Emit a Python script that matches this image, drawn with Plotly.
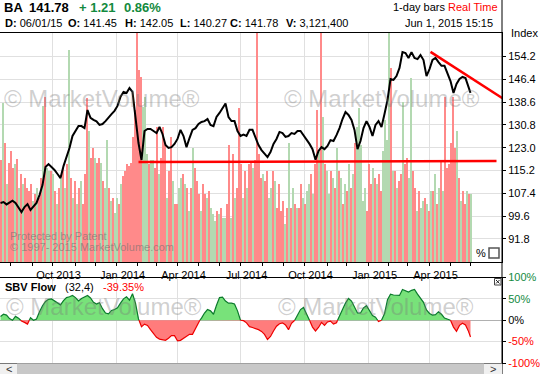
import pandas as pd
import plotly.graph_objects as go

FONT = "Liberation Sans, Arial, Helvetica, sans-serif"

# ---------------- calendar ----------------
CAL_START = "2013-07-18"
CAL_END = "2015-07-31"
LAST_BAR = "2015-06-01"
HOLIDAYS = ["2013-09-02", "2013-11-28", "2013-12-25", "2014-01-01", "2014-01-20",
            "2014-02-17", "2014-04-18", "2014-05-26", "2014-07-04", "2014-09-01",
            "2014-11-27", "2014-12-25", "2015-01-01", "2015-01-19", "2015-02-16",
            "2015-04-03", "2015-05-25", "2015-07-03"]

# ---------------- data ----------------
# close price, sampled every 3rd trading day (+ last bar)
PRICE = [
    104.1, 104.4, 103.6, 104.4, 104.9, 104.1, 102.7, 101.0, 102.7, 103.7,
    101.7, 103.0, 104.1, 106.8, 110.2, 116.4, 117.4, 116.4, 115.4, 114.0,
    112.6, 116.7, 119.5, 122.9, 127.0, 128.7, 130.4, 130.4, 129.7, 135.9,
    133.2, 132.5, 132.0, 130.8, 131.1, 132.1, 133.5, 134.5, 135.6, 137.3,
    140.4, 142.1, 141.7, 143.4, 142.1, 133.2, 124.6, 118.8, 128.7, 129.4,
    129.4, 128.7, 128.0, 130.1, 127.7, 123.9, 122.9, 123.2, 124.3, 126.0,
    129.1, 127.0, 123.2, 126.3, 129.1, 129.7, 131.1, 131.8, 132.1, 132.8,
    130.8, 130.4, 133.5, 134.9, 136.6, 138.1, 133.5, 132.1, 132.1, 128.7,
    127.0, 127.5, 127.0, 129.1, 129.1, 126.7, 123.9, 122.2, 120.8, 119.8,
    121.5, 124.3, 126.0, 128.4, 128.0, 126.7, 127.0, 128.0, 127.7, 128.7,
    128.7, 127.3, 126.0, 124.3, 122.5, 118.9, 121.9, 123.2, 122.5, 123.6,
    125.6, 125.3, 127.3, 129.7, 132.8, 135.2, 134.2, 132.5, 129.1, 122.5,
    125.3, 129.7, 132.1, 130.1, 127.0, 130.8, 132.1, 130.1, 134.5, 139.3,
    146.5, 146.2, 147.5, 150.3, 155.7, 155.4, 153.7, 155.7, 153.7, 153.3,
    154.7, 153.0, 147.5, 149.9, 153.0, 153.7, 152.3, 151.0, 151.0, 148.6,
    145.8, 141.7, 144.8, 146.5, 147.2, 146.8, 143.4, 141.78,
]

# volume (millions), every 2nd trading day; direction G = up day, R = down day
VOLUME_M = [
    5.32, 8.32, 6.21, 4.11, 5.21, 5.84, 4.95, 5.16, 5.42, 3.89,
    4.63, 4.11, 4.42, 3.89, 3.74, 4.11, 3.21, 3.58, 3.89, 3.37,
    4.42, 8.16, 8.63, 4.95, 4.79, 4.79, 4.63, 3.74, 3.05, 3.89,
    4.42, 4.95, 3.89, 5.16, 11.1, 4.42, 3.37, 4.26, 3.05, 3.89,
    4.26, 3.05, 4.63, 8.58, 6.89, 5.47, 6.0, 5.47, 5.21, 5.47,
    5.21, 4.26, 3.89, 6.37, 3.89, 3.21, 3.37, 2.58, 3.37, 3.05,
    4.11, 4.53, 4.79, 5.16, 5.05, 5.21, 6.53, 7.95, 13.0, 10.05,
    9.68, 8.11, 8.63, 5.68, 5.16, 5.32, 5.32, 4.95, 7.05, 4.63,
    5.47, 7.05, 6.21, 3.37, 4.79, 6.53, 4.26, 3.05, 3.05, 3.89,
    4.42, 4.63, 4.11, 3.89, 2.68, 3.89, 6.0, 4.95, 4.26, 3.58,
    2.68, 4.11, 3.58, 3.37, 3.74, 2.84, 2.53, 2.16, 2.68, 2.53,
    2.84, 2.32, 2.32, 3.05, 6.11, 2.32, 5.68, 3.37, 3.89, 8.05,
    5.16, 3.37, 4.79, 3.89, 5.16, 5.21, 4.95, 5.32, 13.0, 5.68,
    4.42, 4.63, 4.26, 4.79, 3.37, 3.89, 4.79, 4.26, 2.84, 4.11,
    2.68, 3.21, 2.0, 2.84, 6.21, 2.84, 3.89, 3.05, 2.84, 2.84,
    4.11, 3.37, 3.05, 3.74, 4.11, 4.63, 3.58, 5.16, 7.95, 5.84,
    13.0, 7.58, 5.16, 4.79, 3.58, 4.79, 4.42, 3.89, 6.0, 4.79,
    4.42, 3.05, 4.11, 3.74, 5.16, 3.89, 4.63, 6.21, 7.05, 8.05,
    6.11, 3.21, 3.89, 2.68, 5.16, 4.11, 4.95, 4.42, 4.11, 4.63,
    3.74, 5.84, 7.42, 6.37, 13.0, 10.16, 4.79, 4.79, 3.89, 4.26,
    4.63, 8.37, 5.16, 5.47, 4.42, 9.63, 4.79, 3.89, 2.68, 3.74,
    2.84, 3.21, 3.37, 3.05, 2.68, 3.74, 3.74, 4.63, 3.05, 3.89,
    5.32, 3.74, 8.63, 4.95, 5.16, 6.21, 8.63, 6.0, 6.89, 4.42,
    3.21, 3.74, 3.05, 3.74, 3.58, 3.58,
]
VOLUME_DIR = (
    "RGRGRRRGRG" "RGRRRRGRGR" "RGRGGRGRGR" "GRGRGRGRGR" "GRRRGRRGRR" "GRGGRGRGGR"
    "GRRRRRRRRR" "RGGGRGGRRG" "RRRGRRGRRG" "GRGRGRGRRR" "GRRGRGGGRG" "RGGRRGRGRR"
    "RGRGRRGRRR" "RGRRGGRGRR" "RRGRGRGRGR" "RGRGGRGRRG" "RGRGGRGRGR" "GRGRGRGRGG"
    "GGGRRRGRGR" "RGGGGRGRGR" "RGRRGGRRGR" "GGRGRGRGRG" "RGRRRRRRGR" "GRRGRG"
)

# SBV Flow (32,4), percent, same sampling as PRICE
SBV_PCT = [
    9, 14, 12, 4, 0, 9, 5, -2, -5, -9,
    6, 0, 3, 20, 34, 44, 49, 50, 45, 40,
    36, 46, 53, 55, 58, 53, 45, 51, 55, 58,
    52, 42, 38, 41, 27, 17, 15, 23, 25, 29,
    40, 50, 55, 47, 62, 40, 3, -15, -9, -12,
    -22, -31, -40, -44, -46, -47, -42, -36, -36, -48,
    -47, -42, -36, -33, -33, -18, -4, 5, 17, 25,
    22, 14, 35, 53, 54, 45, 40, 40, 38, 22,
    0, -1, -6, -15, -17, -19, -22, -26, -33, -45,
    -38, -25, -14, -8, -6, -11, -22, -7, -1, 11,
    25, 30, 15, 0, -16, -25, -17, -5, -12, -4,
    -2, -9, -6, 11, 25, 40, 51, 45, 32, 17,
    17, 29, 34, 21, 11, 7, -3, 0, 15, 48,
    61, 59, 58, 58, 72, 69, 66, 70, 72, 61,
    51, 42, 24, 16, 12, 13, 20, 14, 5, 3,
    0, -16, -26, -12, -7, -11, -26, -39.35,
]

QUARTER_TICKS = ["2013-10-01", "2014-01-01", "2014-04-01", "2014-07-01",
                 "2014-10-01", "2015-01-01", "2015-04-01"]
QUARTER_LABELS = ["Oct 2013", "Jan 2014", "Apr 2014", "Jul 2014",
                  "Oct 2014", "Jan 2015", "Apr 2015"]
MONTH_TICKS = ["2013-08-01", "2013-09-01", "2013-10-01", "2013-11-01", "2013-12-01",
               "2014-01-01", "2014-02-01", "2014-03-01", "2014-04-01", "2014-05-01",
               "2014-06-01", "2014-07-01", "2014-08-01", "2014-09-01", "2014-10-01",
               "2014-11-01", "2014-12-01", "2015-01-01", "2015-02-01", "2015-03-01",
               "2015-04-01", "2015-05-01", "2015-06-01"]
PRICE_TICKS = [91.8, 99.6, 107.4, 115.2, 123.0, 130.8, 138.6, 146.4, 154.2]
PRICE_RANGE = [83.9, 162.24]
VOLUME_RANGE = [0, 12]
SBV_TICKS = [-100, -50, 0, 50, 100]
SBV_LABELS = ["-100%", "-50%", "0%", "50%", "100%"]
SBV_LABEL_COLORS = ["#ff0000", "#ff0000", "#000000", "#138a3e", "#138a3e"]

SUPPORT_DATES = ["2014-02-04", "2015-07-08"]
SUPPORT_PRICES = [118.1, 118.45]
RESIST_DATES = ["2015-04-02", "2015-07-16"]
RESIST_PRICES = [155.8, 139.9]

# ---------------- helpers ----------------
cal = pd.bdate_range(CAL_START, CAL_END, freq="C", holidays=HOLIDAYS)


def tidx(d):
    return int(cal.searchsorted(pd.Timestamp(d)))


n = tidx(LAST_BAR) + 1
price_x = list(range(0, n, 3))
if price_x[-1] != n - 1:
    price_x.append(n - 1)
price_x = price_x[:len(PRICE)]
vol_x = list(range(0, n, 2))[:len(VOLUME_M)]
vol_colors = ["#b3d9b1" if c == "G" else "#ff8a8a" for c in VOLUME_DIR[:len(vol_x)]]

X_RANGE = [-0.5, 501.5]

# split SBV into positive / negative parts at zero crossings
pts = []
sbv_x = price_x[:len(SBV_PCT)]
for i, (xv, v) in enumerate(zip(sbv_x, SBV_PCT)):
    if i > 0:
        x0, v0 = sbv_x[i - 1], SBV_PCT[i - 1]
        if v0 * v < 0:
            pts.append((x0 + (xv - x0) * v0 / (v0 - v), 0.0))
    pts.append((xv, v))
sx = [p[0] for p in pts]
pos_fill = [max(p[1], 0) for p in pts]
neg_fill = [min(p[1], 0) for p in pts]
pos_line = [p[1] if p[1] >= 0 else None for p in pts]
neg_line = [p[1] if p[1] <= 0 else None for p in pts]

fig = go.Figure()
fig.add_trace(go.Bar(x=vol_x, y=VOLUME_M, width=2, marker=dict(color=vol_colors, line=dict(width=0)),
                     xaxis="x", yaxis="y"))
fig.add_trace(go.Scatter(x=price_x, y=PRICE, mode="lines", line=dict(color="black", width=2),
                         xaxis="x", yaxis="y2"))
fig.add_trace(go.Scatter(x=[tidx(d) for d in SUPPORT_DATES], y=SUPPORT_PRICES, mode="lines",
                         line=dict(color="#ff0000", width=2.5), xaxis="x", yaxis="y2"))
fig.add_trace(go.Scatter(x=[tidx(d) for d in RESIST_DATES], y=RESIST_PRICES, mode="lines",
                         line=dict(color="#ff0000", width=2.5), xaxis="x", yaxis="y2"))

fig.add_trace(go.Scatter(x=sx, y=pos_fill, mode="lines", fill="tozeroy", fillcolor="#78e27a",
                         line=dict(width=0), xaxis="x2", yaxis="y3"))
fig.add_trace(go.Scatter(x=sx, y=neg_fill, mode="lines", fill="tozeroy", fillcolor="#ff7c7c",
                         line=dict(width=0), xaxis="x2", yaxis="y3"))
fig.add_trace(go.Scatter(x=sx, y=pos_line, mode="lines", line=dict(color="#0b7a2c", width=1.2),
                         connectgaps=False, xaxis="x2", yaxis="y3"))
fig.add_trace(go.Scatter(x=sx, y=neg_line, mode="lines", line=dict(color="#ee0000", width=1.2),
                         connectgaps=False, xaxis="x2", yaxis="y3"))

GRID = "#e0e0e0"
q_idx = [tidx(d) for d in QUARTER_TICKS]
m_idx = [tidx(d) for d in MONTH_TICKS]

MAIN_BOTTOM = (363 - 262) / 330
SBV_TOP = (363 - 277.5) / 330

fig.update_layout(
    width=542, height=374,
    margin=dict(l=0, r=40, t=33, b=11),
    paper_bgcolor="white", plot_bgcolor="white",
    showlegend=False, bargap=0,
    font=dict(family=FONT, size=11, color="black"),
    xaxis=dict(domain=[0, 1], anchor="y", range=X_RANGE,
               tickmode="array", tickvals=q_idx, ticktext=QUARTER_LABELS,
               ticks="outside", ticklen=3, tickcolor="black",
               showline=True, linecolor="black", linewidth=1, mirror=True,
               showgrid=True, gridcolor=GRID, zeroline=False,
               ticklabelshift=6,
               minor=dict(tickmode="array", tickvals=m_idx, ticks="outside", ticklen=3,
                          tickcolor="black", showgrid=False),
               tickfont=dict(size=11, family=FONT, color="black")),
    yaxis=dict(domain=[MAIN_BOTTOM, 1], anchor="x", range=VOLUME_RANGE,
               showgrid=False, showticklabels=False, zeroline=False, ticks=""),
    yaxis2=dict(overlaying="y", anchor="x", side="right", range=PRICE_RANGE,
                tickmode="array", tickvals=PRICE_TICKS,
                ticktext=[f"{v:.1f}" for v in PRICE_TICKS],
                ticks="outside", ticklen=3, tickcolor="black",
                showline=True, linecolor="black", linewidth=1,
                showgrid=True, gridcolor=GRID, zeroline=False,
                tickfont=dict(size=11, family=FONT, color="black")),
    xaxis2=dict(domain=[0, 1], anchor="y3", range=X_RANGE,
                tickmode="array", tickvals=q_idx, showticklabels=False, ticks="",
                showline=True, linecolor="black", linewidth=1, mirror=True,
                showgrid=True, gridcolor=GRID, zeroline=False),
    yaxis3=dict(domain=[0, SBV_TOP], anchor="x2", side="right", range=[-100, 100],
                tickmode="array", tickvals=SBV_TICKS,
                ticktext=[f'<span style="color:{c}">{t}</span>' for t, c in zip(SBV_LABELS, SBV_LABEL_COLORS)],
                ticks="outside", ticklen=3, tickcolor="black",
                showline=True, linecolor="black", linewidth=1,
                showgrid=True, gridcolor=GRID,
                zeroline=True, zerolinecolor="#b0b0b0", zerolinewidth=1,
                tickfont=dict(size=11, family=FONT)),
)


def px(xp):
    return xp / 502.0


def py(yp):
    return (363.0 - yp) / 330.0


ann = []


def text(x, y, s, size=11, color="black", xanchor="left"):
    ann.append(dict(x=px(x), y=py(y), xref="paper", yref="paper", text=s, showarrow=False,
                    xanchor=xanchor, yanchor="middle", borderpad=0,
                    font=dict(size=size, color=color, family=FONT)))


GREEN = "#138a3e"
# header line 1
text(3, 7.5, "<b>BA</b>", 13)
text(28, 7.5, "<b>141.78</b>", 13)
text(78, 7.5, "<b>+ 1.21</b>", 13, GREEN)
text(123, 7.5, "<b>0.86%</b>", 13, GREEN)
# header line 2
text(4, 23, "<b>D:</b> 06/01/15")
text(67, 23, "<b>O:</b> 141.45")
text(124, 23, "<b>H:</b> 142.05")
text(179, 23, "<b>L:</b> 140.27")
text(229, 23, "<b>C:</b> 141.78")
text(285, 23, "<b>V:</b> 3,121,400")
text(499, 7.5, '1-day bars <span style="color:#ff0000">Real Time</span>', 11, "black", "right")
text(494, 23, "Jun 1, 2015 15:15", 11, "black", "right")
text(510, 33, "Index")

# watermarks
WM = "rgba(120,120,120,0.36)"
for cx, cy in [(102, 99), (382, 99), (104, 306), (376, 306)]:
    text(cx, cy, "© MarketVolume®", 24, WM, "center")
text(9, 235.5, "Protected by Patent", 11, "rgba(110,110,110,0.6)")
text(9, 247, "© 1997- 2015 MarketVolume.com", 11, "rgba(110,110,110,0.6)")

# % checkbox
text(475, 253, "%", 11)

# SBV title
text(4, 286.5, "<b>SBV Flow</b>", 11)
text(64, 286.5, "(32,4)", 11)
text(102, 286.5, "-39.35%", 11, "#ff0000")

# scrollbar arrows
text(8.5, 368.5, "<", 11, "#333333", "center")
text(493, 368.5, ">", 11, "#333333", "center")

fig.update_layout(annotations=ann)

shapes = [
    # outer right frame line
    dict(type="line", xref="paper", yref="paper", x0=1, x1=1, y0=py(374), y1=py(0),
         line=dict(color="black", width=1)),
    # checkbox
    dict(type="rect", xref="paper", yref="paper", x0=px(489), x1=px(499), y0=py(258), y1=py(248),
         line=dict(color="#555555", width=1.5), fillcolor="white"),
    # close box
    dict(type="rect", xref="paper", yref="paper", x0=px(494.5), x1=px(501), y0=py(285), y1=py(278.5),
         line=dict(color="#444444", width=1), fillcolor="white"),
    dict(type="line", xref="paper", yref="paper", x0=px(496), x1=px(499.5), y0=py(283.5), y1=py(280),
         line=dict(color="#222222", width=1)),
    dict(type="line", xref="paper", yref="paper", x0=px(496), x1=px(499.5), y0=py(280), y1=py(283.5),
         line=dict(color="#222222", width=1)),
    # scrollbar
    dict(type="rect", xref="paper", yref="paper", x0=px(0), x1=px(502), y0=py(374), y1=py(363.5),
         line=dict(width=0), fillcolor="#f0f0f0"),
    dict(type="rect", xref="paper", yref="paper", x0=px(17), x1=px(484), y0=py(374), y1=py(363.5),
         line=dict(width=0), fillcolor="#c8c8c8"),
]
fig.update_layout(shapes=shapes)

fig.write_html(
    "out.html",
    config={"displayModeBar": False},
    post_script="document.body.style.margin='0';document.body.style.padding='0';"
                "document.documentElement.style.overflow='hidden';document.body.style.overflow='hidden';",
)
